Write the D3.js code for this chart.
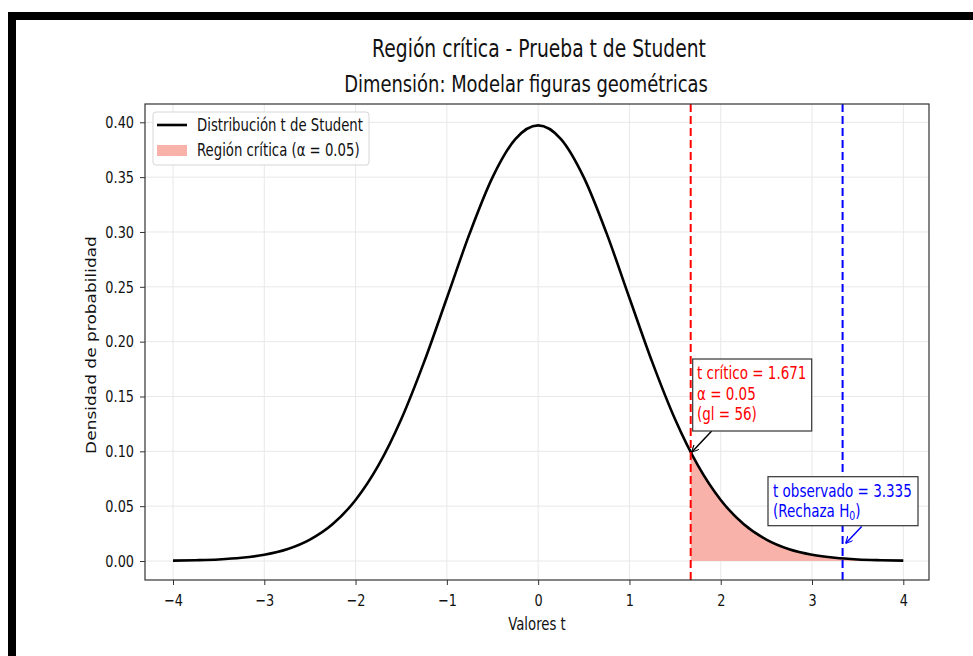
<!DOCTYPE html>
<html>
<head>
<meta charset="utf-8">
<script src="https://cdn.jsdelivr.net/npm/d3@7"></script>
<style>
  body { margin: 0; background: #fff; }
  text { font-family: "DejaVu Sans", sans-serif; }
</style>
</head>
<body>
<script>
// valores t y densidad (gl = 56)
var tValues = [-4, -3.75, -3.5, -3.25, -3, -2.75, -2.5, -2.25, -2, -1.75, -1.5, -1.25, -1, -0.75, -0.5, -0.25,
               0, 0.25, 0.5, 0.75, 1, 1.25, 1.5, 1.75, 2, 2.25, 2.5, 2.75, 3, 3.25, 3.5, 3.75, 4];
var density = [0.0003, 0.0007, 0.0014, 0.0029, 0.0057, 0.0107, 0.0195, 0.0337, 0.0556, 0.0871, 0.1292, 0.1813, 0.2398, 0.2987, 0.3498, 0.3847,
               0.3972, 0.3847, 0.3498, 0.2987, 0.2398, 0.1813, 0.1292, 0.0871, 0.0556, 0.0337, 0.0195, 0.0107, 0.0057, 0.0029, 0.0014, 0.0007, 0.0003];
var tCritico = 1.671, densCritico = 0.0992;
var tObservado = 3.335, densObservado = 0.016;
var xTicks = [-4, -3, -2, -1, 0, 1, 2, 3, 4];
var yTicks = [0.00, 0.05, 0.10, 0.15, 0.20, 0.25, 0.30, 0.35, 0.40];
var legendLabels = ["Distribución t de Student", "Región crítica (α = 0.05)"];
var critLines = ["t crítico = 1.671", "α = 0.05", "(gl = 56)"];

var W = 973, H = 656;
var SX = 0.78; // el original está comprimido en horizontal
var pLeft = 145, pRight = 929, pTop = 104, pBottom = 580;

var svg = d3.select("body").append("svg")
    .attr("width", W)
    .attr("height", H);

svg.append("rect").attr("width", W).attr("height", H).attr("fill", "#fff");
// marco negro
svg.append("rect").attr("x", 8).attr("y", 12).attr("width", W - 8).attr("height", 8).attr("fill", "#000");
svg.append("rect").attr("x", 8).attr("y", 12).attr("width", 8).attr("height", H - 12).attr("fill", "#000");

var x = d3.scaleLinear().domain([-4, 4]).range([173, 903.3]);
var y = d3.scaleLinear().domain([0, 0.4]).range([561, 122.3]);

function label(g, px, py, s, size, anchor, color) {
    return g.append("text")
        .attr("transform", "translate(" + px + "," + py + ") scale(" + SX + ",1)")
        .attr("text-anchor", anchor || "start")
        .attr("font-size", size)
        .attr("fill", color || "#111")
        .text(s);
}

// grid
var grid = svg.append("g").attr("stroke", "#e8e8e8").attr("stroke-width", 1);
grid.selectAll(".gx").data(xTicks).enter().append("line")
    .attr("x1", function(d) { return x(d); }).attr("x2", function(d) { return x(d); })
    .attr("y1", pTop).attr("y2", pBottom);
grid.selectAll(".gy").data(yTicks).enter().append("line")
    .attr("y1", function(d) { return y(d); }).attr("y2", function(d) { return y(d); })
    .attr("x1", pLeft).attr("x2", pRight);

var pts = tValues.map(function(t, i) { return [t, density[i]]; });

// región crítica
var fillPts = [[tCritico, densCritico]].concat(pts.filter(function(p) { return p[0] > tCritico; }));
svg.append("path")
    .datum(fillPts)
    .attr("fill", "#f9b2a9")
    .attr("d", d3.area()
        .x(function(d) { return x(d[0]); })
        .y0(y(0))
        .y1(function(d) { return y(d[1]); })
        .curve(d3.curveMonotoneX));

// curva
svg.append("path")
    .datum(pts)
    .attr("fill", "none")
    .attr("stroke", "#000")
    .attr("stroke-width", 2.6)
    .attr("d", d3.line()
        .x(function(d) { return x(d[0]); })
        .y(function(d) { return y(d[1]); })
        .curve(d3.curveMonotoneX));

// líneas verticales
svg.append("line")
    .attr("x1", x(tCritico)).attr("x2", x(tCritico)).attr("y1", pTop).attr("y2", pBottom)
    .attr("stroke", "#f00").attr("stroke-width", 2).attr("stroke-dasharray", "8,4");
svg.append("line")
    .attr("x1", x(tObservado)).attr("x2", x(tObservado)).attr("y1", pTop).attr("y2", pBottom)
    .attr("stroke", "#00f").attr("stroke-width", 2).attr("stroke-dasharray", "8,4");

// ejes
var xAxis = svg.append("g")
    .attr("transform", "translate(0," + pBottom + ")")
    .call(d3.axisBottom(x).tickValues(xTicks).tickSize(5).tickPadding(9)
        .tickFormat(function(d) { return d < 0 ? "\u2212" + Math.abs(d) : d; }));
var yAxis = svg.append("g")
    .attr("transform", "translate(" + pLeft + ",0)")
    .call(d3.axisLeft(y).tickValues(yTicks).tickSize(5).tickFormat(d3.format(".2f")));
[xAxis, yAxis].forEach(function(a) {
    a.select(".domain").remove();
    a.selectAll("line").attr("stroke", "#333");
    a.selectAll("text").attr("font-size", 16.5).attr("fill", "#111").attr("font-family", "DejaVu Sans");
});
xAxis.selectAll("text").attr("transform", "scale(" + SX + ",1)");
yAxis.selectAll("text").attr("x", -11 / SX).attr("transform", "scale(" + SX + ",1)");

svg.append("rect")
    .attr("x", pLeft).attr("y", pTop).attr("width", pRight - pLeft).attr("height", pBottom - pTop)
    .attr("fill", "none").attr("stroke", "#333").attr("stroke-width", 1.2);

label(svg, 537, 630, "Valores t", 17, "middle");
svg.append("text")
    .attr("transform", "translate(96,345) scale(" + SX + ",1) rotate(-90)")
    .attr("text-anchor", "middle")
    .attr("font-size", 17)
    .attr("fill", "#111")
    .text("Densidad de probabilidad");

label(svg, 539, 57, "Región crítica - Prueba t de Student", 24, "middle");
label(svg, 526, 92, "Dimensión: Modelar figuras geométricas", 23, "middle");

// leyenda
var lg = svg.append("g");
lg.append("rect").attr("x", 153).attr("y", 112).attr("width", 216).attr("height", 53).attr("rx", 3)
    .attr("fill", "#fff").attr("fill-opacity", 0.85).attr("stroke", "#d6d6d6");
lg.append("line").attr("x1", 157).attr("x2", 187).attr("y1", 125).attr("y2", 125)
    .attr("stroke", "#000").attr("stroke-width", 2.6);
lg.append("rect").attr("x", 157).attr("y", 145).attr("width", 30).attr("height", 11).attr("fill", "#f9b2a9");
label(lg, 197, 131, legendLabels[0], 17);
label(lg, 197, 156, legendLabels[1], 17);

// flechas
var defs = svg.append("defs");
[["ahK", "#000"], ["ahB", "#00f"]].forEach(function(m) {
    defs.append("marker").attr("id", m[0]).attr("viewBox", "0 0 10 10")
        .attr("refX", 10).attr("refY", 5).attr("markerWidth", 7).attr("markerHeight", 7)
        .attr("orient", "auto").attr("markerUnits", "userSpaceOnUse")
        .append("path").attr("d", "M0,0 L10,5 L0,10").attr("fill", "none")
        .attr("stroke", m[1]).attr("stroke-width", 1.6);
});

// anotación t crítico
var ax = svg.append("g");
ax.append("line")
    .attr("x1", 711.7).attr("y1", 431).attr("x2", x(tCritico) + 1).attr("y2", y(densCritico))
    .attr("stroke", "#000").attr("stroke-width", 1.5).attr("marker-end", "url(#ahK)");
ax.append("rect").attr("x", 692.7).attr("y", 359).attr("width", 119).attr("height", 72)
    .attr("fill", "#fff").attr("stroke", "#333").attr("stroke-width", 1.2);
critLines.forEach(function(s, i) {
    label(ax, 697, 379 + i * 20.5, s, 17.3, "start", "#f00");
});

// anotación t observado
ax.append("line")
    .attr("x1", 861.7).attr("y1", 526.5).attr("x2", x(tObservado) + 3).attr("y2", y(densObservado))
    .attr("stroke", "#00f").attr("stroke-width", 1.5).attr("marker-end", "url(#ahB)");
ax.append("rect").attr("x", 768).attr("y", 476.7).attr("width", 150).attr("height", 49)
    .attr("fill", "#fff").attr("stroke", "#333").attr("stroke-width", 1.2);
label(ax, 773, 496.7, "t observado = 3.335", 17.3, "start", "#00f");
var t2 = label(ax, 773, 516.7, "(Rechaza H", 17.3, "start", "#00f");
t2.append("tspan").attr("font-size", 12).attr("dy", 3).text("0");
t2.append("tspan").attr("dy", -3).text(")");
</script>
</body>
</html>
